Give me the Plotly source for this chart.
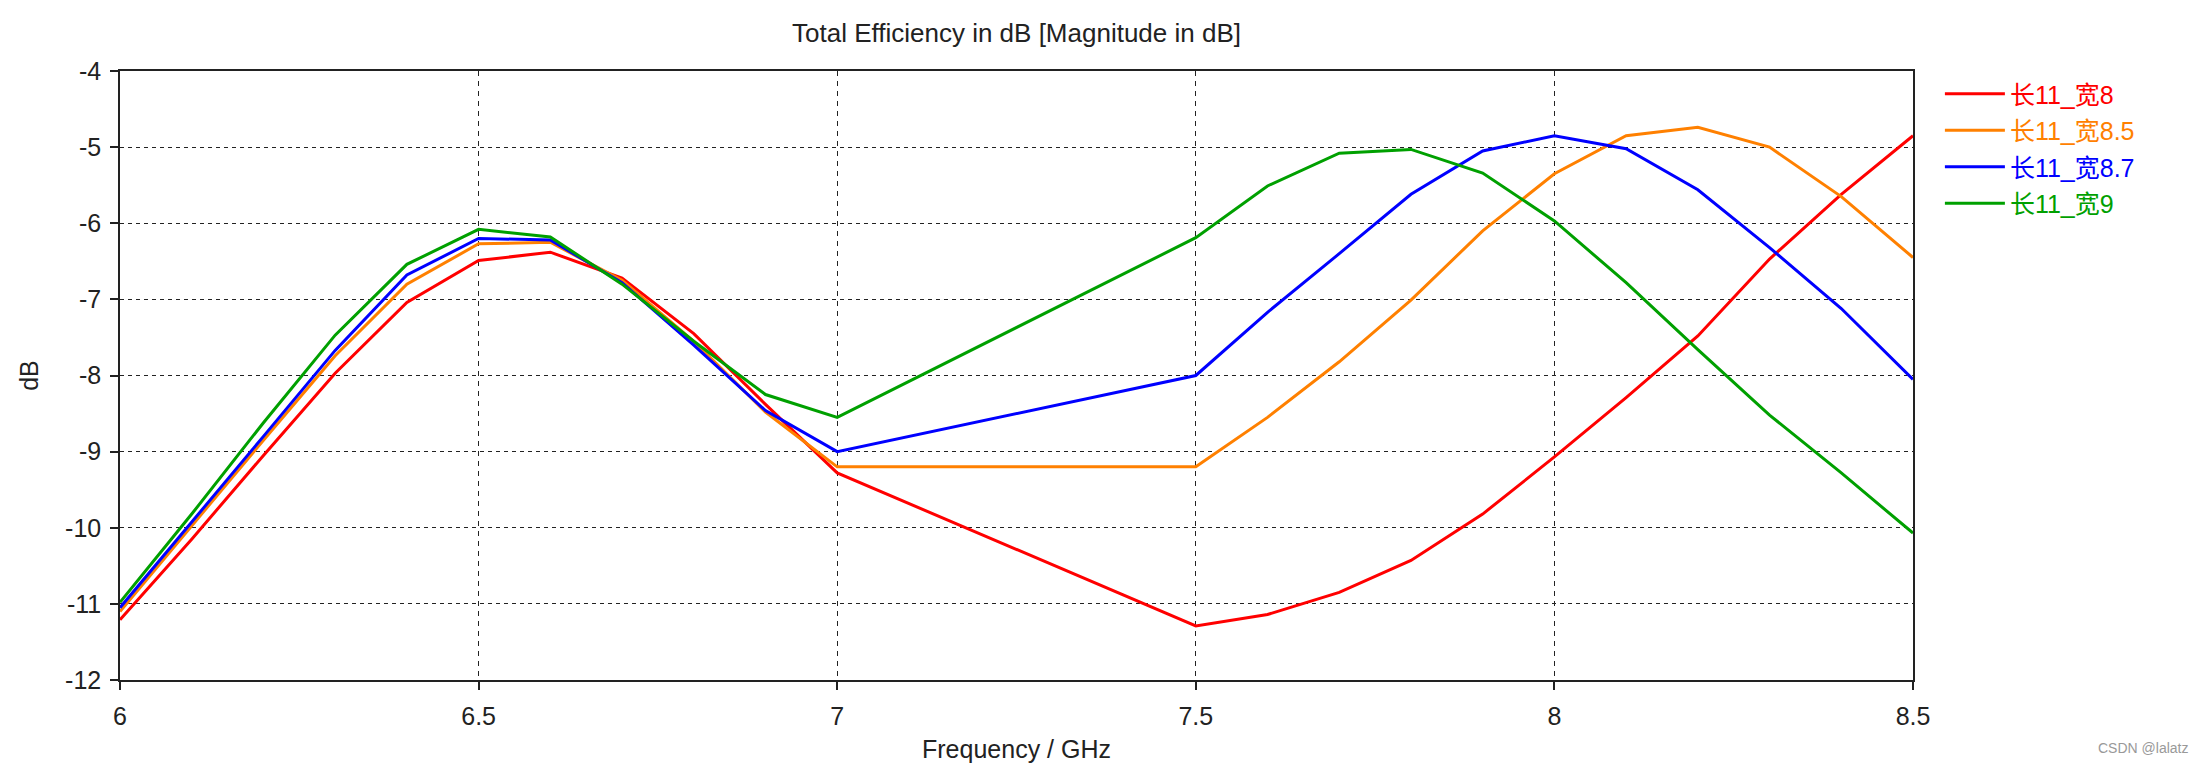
import plotly.graph_objects as go

# Frequency samples (GHz) and total efficiency (dB) per patch size
freq = [6.0, 6.1, 6.2, 6.3, 6.4, 6.5, 6.6, 6.7, 6.8, 6.9, 7.0,
        7.5, 7.6, 7.7, 7.8, 7.9, 8.0, 8.1, 8.2, 8.3, 8.4, 8.5]

eff_w8 = [-11.21, -10.15, -9.05, -7.97, -7.04, -6.49, -6.38, -6.72, -7.45, -8.38, -9.28,
          -11.29, -11.14, -10.85, -10.43, -9.82, -9.07, -8.29, -7.48, -6.47, -5.62, -4.85]
eff_w85 = [-11.10, -9.97, -8.85, -7.74, -6.80, -6.27, -6.25, -6.75, -7.55, -8.48, -9.20,
           -9.20, -8.55, -7.82, -7.01, -6.10, -5.35, -4.85, -4.74, -5.00, -5.65, -6.45]
eff_w87 = [-11.05, -9.93, -8.80, -7.67, -6.68, -6.20, -6.22, -6.78, -7.60, -8.46, -9.00,
           -8.00, -7.17, -6.40, -5.62, -5.05, -4.85, -5.02, -5.56, -6.32, -7.12, -8.05]
eff_w9 = [-10.98, -9.82, -8.62, -7.47, -6.54, -6.08, -6.18, -6.80, -7.55, -8.25, -8.55,
          -6.19, -5.51, -5.08, -5.03, -5.34, -5.97, -6.78, -7.66, -8.52, -9.28, -10.07]

names = ["长11_宽8", "长11_宽8.5", "长11_宽8.7", "长11_宽9"]
colors = ["#ff0000", "#ff8000", "#0000ff", "#00a000"]

x_ticks = [6, 6.5, 7, 7.5, 8, 8.5]
y_ticks = [-12, -11, -10, -9, -8, -7, -6, -5, -4]

FONT = "Tahoma, 'Liberation Sans', 'Noto Sans CJK SC', sans-serif"

# page body has an 8px margin, so the figure is a bit smaller than the window
W, H = 2196, 755
L, T = 111.5, 63
PW, PH = 1793.5, 609

fig = go.Figure()
for i, (vals, name, col) in enumerate(zip([eff_w8, eff_w85, eff_w87, eff_w9], names, colors)):
    fig.add_trace(go.Scatter(
        x=freq, y=vals, mode="lines",
        name=f'<span style="color:{col}">{name}</span>',
        legendgroup=f"g{i}",
        line=dict(color=col, width=3),
    ))

axis_common = dict(
    showline=True, linecolor="#222", linewidth=1.5, mirror=True,
    ticks="outside", ticklen=8, tickcolor="#222", tickwidth=1.5,
    showgrid=True, gridcolor="#222", gridwidth=1,
    zeroline=False, automargin=False,
    tickfont=dict(family=FONT, size=25, color="#222"),
)

fig.update_xaxes(
    range=[6, 8.5], tickvals=x_ticks, ticktext=[str(v) for v in x_ticks],
    griddash="5px,5px", ticklabelstandoff=5,
    title=dict(text="Frequency / GHz", font=dict(family=FONT, size=25, color="#222"), standoff=14),
    **axis_common,
)
fig.update_yaxes(
    range=[-12, -4], tickvals=y_ticks, ticktext=[str(v) for v in y_ticks],
    griddash="4px,4px", ticklabelstandoff=4,
    title=dict(text="dB", font=dict(family=FONT, size=25, color="#222"), standoff=19),
    **axis_common,
)

fig.update_layout(
    width=W, height=H,
    margin=dict(l=L, r=W - L - PW, t=T, b=H - T - PH),
    paper_bgcolor="white", plot_bgcolor="white",
    title=dict(text="Total Efficiency in dB [Magnitude in dB]",
               x=0.5, xref="paper", xanchor="center",
               y=1 - 25 / H, yref="container", yanchor="middle",
               font=dict(family=FONT, size=26, color="#222")),
    legend=dict(x=1.015, xanchor="left", y=1.0, yanchor="top",
                font=dict(family=FONT, size=25),
                traceorder="grouped", tracegroupgap=1,
                bgcolor="rgba(0,0,0,0)", itemwidth=60),
    showlegend=True,
)

fig.add_annotation(text="CSDN @lalatz", xref="paper", yref="paper",
                   x=(2182 - L) / PW, y=-(740 - T - PH) / PH,
                   xanchor="right", yanchor="middle", showarrow=False,
                   font=dict(family=FONT, size=14, color="#999"))

fig.write_html("out.html")
